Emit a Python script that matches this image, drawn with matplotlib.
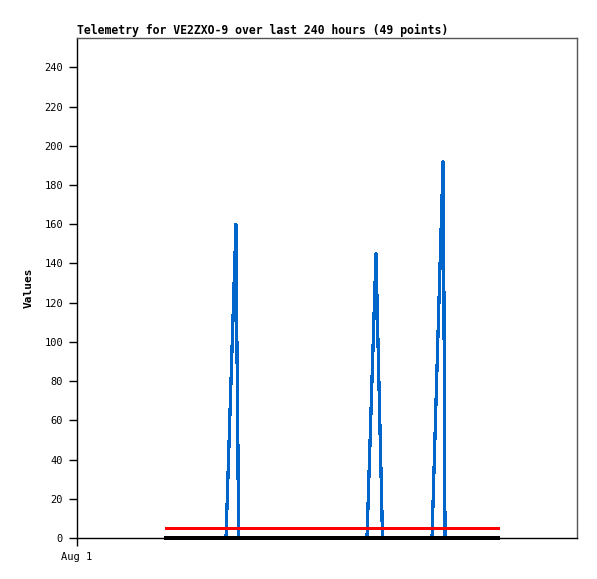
import matplotlib
matplotlib.use("Agg")
import matplotlib.pyplot as plt

# hours since Aug 1 00:00
hours = [64.3, 107.7, 114.9, 115.3, 116.4, 116.6,
         209.6, 216.1, 216.4, 220.5, 220.7,
         256.6, 264.6, 265.1, 266.0, 266.2, 304.3]
values = [0, 0, 160, 120, 40, 0,
          0, 145, 135, 10, 0,
          0, 192, 140, 0, 0, 0]

limit_hours = [64.3, 304.3]
upper_limit = [5, 5]
lower_limit = [0, 0]

title = "Telemetry for VE2ZXO-9 over last 240 hours (49 points)"
yticks = list(range(0, 241, 20))

fig = plt.figure(figsize=(5.97, 5.79), dpi=100)
ax = fig.add_axes([77 / 597, 1 - 538 / 579, 500 / 597, 500 / 579])

ax.plot(hours, values, color="#0066cc", linewidth=1.6, antialiased=False,
        zorder=2, clip_on=False, snap=False)
ax.plot(limit_hours, upper_limit, color="#ff0000", linewidth=2, antialiased=False,
        zorder=3, clip_on=False)
ax.plot(limit_hours, lower_limit, color="#000000", linewidth=1.7, antialiased=False,
        zorder=4, clip_on=False, snap=False)

ax.set_xlim(0, 361.4)
ax.set_ylim(0, 255)
ax.set_yticks(yticks)
ax.set_xticks([0])
ax.set_xticklabels(["Aug 1"])

mono = "DejaVu Sans Mono"
for lbl in ax.get_yticklabels() + ax.get_xticklabels():
    lbl.set_family(mono)
    lbl.set_fontsize(7.5)
ax.tick_params(axis="both", direction="out", length=6, width=1, pad=4, colors="black")

ax.set_ylabel("Values", family=mono, fontweight="bold", fontsize=8, labelpad=8)
ax.set_title(title, family=mono, fontweight="bold", fontsize=8.3, loc="left", pad=3)

ax.spines["left"].set_color("black")
ax.spines["bottom"].set_color("black")
ax.spines["top"].set_color("#555555")
ax.spines["right"].set_color("#555555")
for s in ax.spines.values():
    s.set_linewidth(1)

fig.savefig("out.png", dpi=100)
